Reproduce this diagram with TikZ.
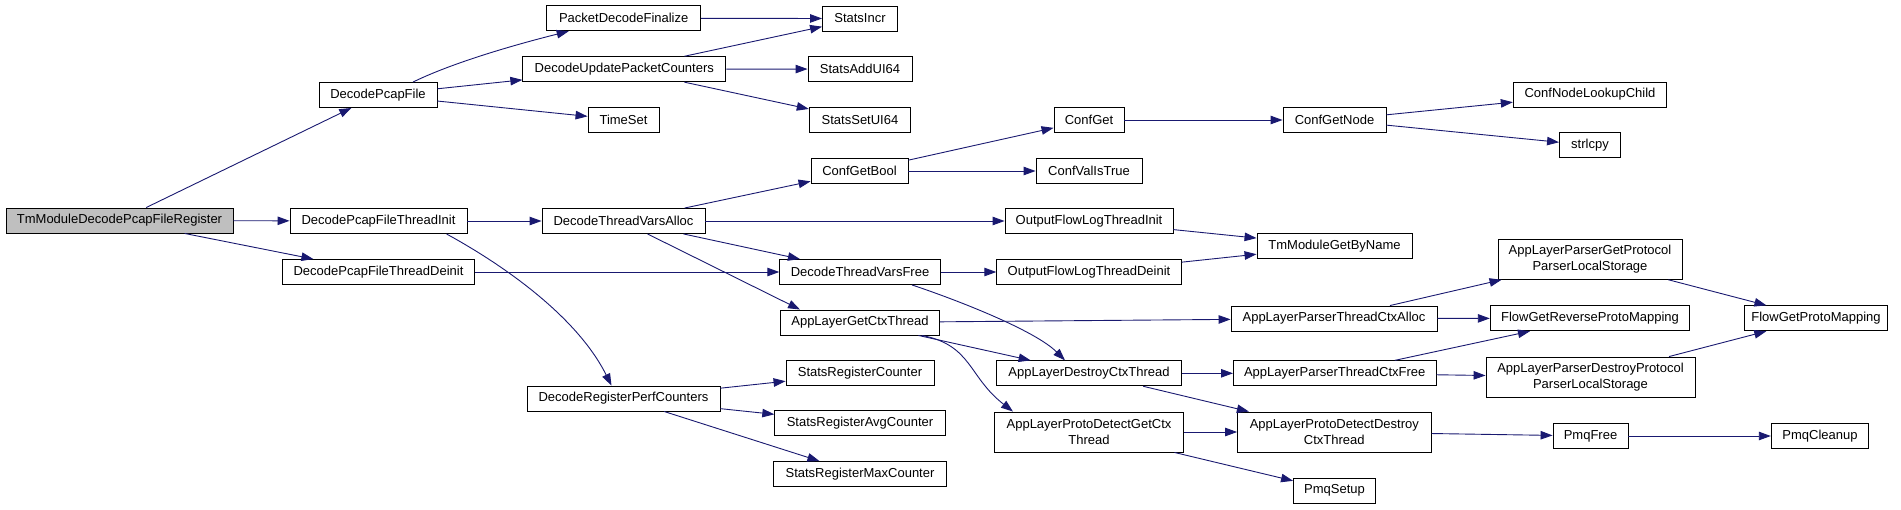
\documentclass[tikz,border=0pt]{standalone}
\usepackage{fontspec}
\setmainfont{Liberation Sans}
\usepackage{tikz}
\usetikzlibrary{arrows.meta}
\definecolor{edgeblue}{HTML}{191970}

\begin{document}
\begin{tikzpicture}[
    x=1pt, y=-1pt,
    fn/.style={draw=black, fill=white, line width=0.9pt, minimum height=25pt,
      inner xsep=2pt, inner ysep=1pt, font=\fontsize{13}{15.5}\selectfont},
    fn2/.style={fn, align=center, minimum height=40pt},
    root/.style={fn, fill=gray!50},
    call/.style={-{Triangle[length=12pt,width=8.5pt]}, draw=edgeblue, line width=0.9pt},
]
\useasboundingbox (0,0) rectangle (1901,509);
\node[root, minimum width=227pt] (tmreg) at (119.5,220.5) {TmModuleDecodePcapFileRegister};
\node[fn, minimum width=118pt] (dpf) at (378,95) {DecodePcapFile};
\node[fn, minimum width=154pt] (pdf) at (623.7,18.3) {PacketDecodeFinalize};
\node[fn, minimum width=203pt] (dupc) at (624.3,69.2) {DecodeUpdatePacketCounters};
\node[fn, minimum width=71pt] (timeset) at (623.5,120) {TimeSet};
\node[fn, minimum width=75pt] (statsincr) at (860,18.5) {StatsIncr};
\node[fn, minimum width=104pt] (statsadd) at (860,69) {StatsAddUI64};
\node[fn, minimum width=101.5pt] (statsset) at (860,120) {StatsSetUI64};
\node[fn, minimum width=177pt] (dpfti) at (378.5,221) {DecodePcapFileThreadInit};
\node[fn, minimum width=192pt] (dpftd) at (378.5,272) {DecodePcapFileThreadDeinit};
\node[fn, minimum width=163pt] (dtva) at (623.5,221) {DecodeThreadVarsAlloc};
\node[fn, minimum width=193pt] (drpc) at (623.5,398.5) {DecodeRegisterPerfCounters};
\node[fn, minimum width=97pt] (cgbool) at (859.5,171) {ConfGetBool};
\node[fn, minimum width=70pt] (cget) at (1089,120) {ConfGet};
\node[fn, minimum width=106pt] (cvaltrue) at (1089,171) {ConfValIsTrue};
\node[fn, minimum width=103pt] (cgnode) at (1334.5,120) {ConfGetNode};
\node[fn, minimum width=153.5pt] (cnlchild) at (1590,94.5) {ConfNodeLookupChild};
\node[fn, minimum width=61pt] (strlcpy) at (1590,145.3) {strlcpy};
\node[fn, minimum width=168pt] (oflti) at (1089,221) {OutputFlowLogThreadInit};
\node[fn, minimum width=155pt] (tmgbn) at (1334.5,246) {TmModuleGetByName};
\node[fn, minimum width=160.5pt] (dtvf) at (860,272) {DecodeThreadVarsFree};
\node[fn, minimum width=184.5pt] (ofltd) at (1089,272) {OutputFlowLogThreadDeinit};
\node[fn, minimum width=159.5pt] (agct) at (860,322.5) {AppLayerGetCtxThread};
\node[fn, minimum width=206pt] (aptca) at (1334,318.5) {AppLayerParserThreadCtxAlloc};
\node[fn2, minimum width=184pt] (apgpls) at (1590,259.3) {AppLayerParserGetProtocol\\ParserLocalStorage};
\node[fn, minimum width=199.5pt] (fgrpm) at (1590,318.3) {FlowGetReverseProtoMapping};
\node[fn, minimum width=143.7pt] (fgpm) at (1816,318.3) {FlowGetProtoMapping};
\node[fn, minimum width=184.5pt] (aldct) at (1089,373.3) {AppLayerDestroyCtxThread};
\node[fn, minimum width=202.5pt] (aptcf) at (1334.7,373.3) {AppLayerParserThreadCtxFree};
\node[fn2, minimum width=209pt] (apdpls) at (1590.5,377) {AppLayerParserDestroyProtocol\\ParserLocalStorage};
\node[fn2, minimum width=189.6pt] (apdgct) at (1089,432) {AppLayerProtoDetectGetCtx\\Thread};
\node[fn2, minimum width=193.5pt] (apddct) at (1334.3,432) {AppLayerProtoDetectDestroy\\CtxThread};
\node[fn, minimum width=75pt] (pmqfree) at (1590.5,436) {PmqFree};
\node[fn, minimum width=97.5pt] (pmqclean) at (1820,436) {PmqCleanup};
\node[fn, minimum width=82pt] (pmqsetup) at (1334.5,490.7) {PmqSetup};
\node[fn, minimum width=148pt] (src) at (860,373.3) {StatsRegisterCounter};
\node[fn, minimum width=170.5pt] (srac) at (860,423.3) {StatsRegisterAvgCounter};
\node[fn, minimum width=173pt] (srmc) at (860,474) {StatsRegisterMaxCounter};
% straight calls
\foreach \a/\b in {tmreg/dpf, tmreg/dpfti, tmreg/dpftd, dpf/dupc, dpf/timeset,
    pdf/statsincr, dupc/statsincr, dupc/statsadd, dupc/statsset, dpfti/dtva,
    dpftd/dtvf, dtva/cgbool, dtva/oflti, dtva/dtvf, cgbool/cget, cgbool/cvaltrue,
    cget/cgnode, cgnode/cnlchild, cgnode/strlcpy, oflti/tmgbn, ofltd/tmgbn,
    dtvf/ofltd, agct/aptca, agct/aldct, aptca/apgpls, aptca/fgrpm, aptcf/fgrpm,
    aptcf/apdpls, apgpls/fgpm, apdpls/fgpm, aldct/aptcf, aldct/apddct,
    apdgct/apddct, apdgct/pmqsetup, apddct/pmqfree, pmqfree/pmqclean,
    drpc/src, drpc/srac, drpc/srmc} {
  \draw[call] (\a) -- (\b);
}
% bent calls
\draw[call] ([xshift=35pt]dpf.north) .. controls +(45,-22) and +(-40,10) .. ([xshift=-55pt]pdf.south);
\draw[call] ([xshift=68pt]dpfti.south) .. controls +(55,30) and +(-35,-70) .. ([xshift=-12pt]drpc.north);
\draw[call] ([xshift=24pt]dtva.south) -- ([xshift=-60pt]agct.north);
\draw[call] ([xshift=52pt]dtvf.south) .. controls +(45,15) and +(-30,-30) .. ([xshift=-24pt]aldct.north);
\draw[call] ([xshift=-18pt]agct.south east) .. controls +(50,10) and +(-45,-35) .. ([xshift=-76pt]apdgct.north);
\end{tikzpicture}
\end{document}
